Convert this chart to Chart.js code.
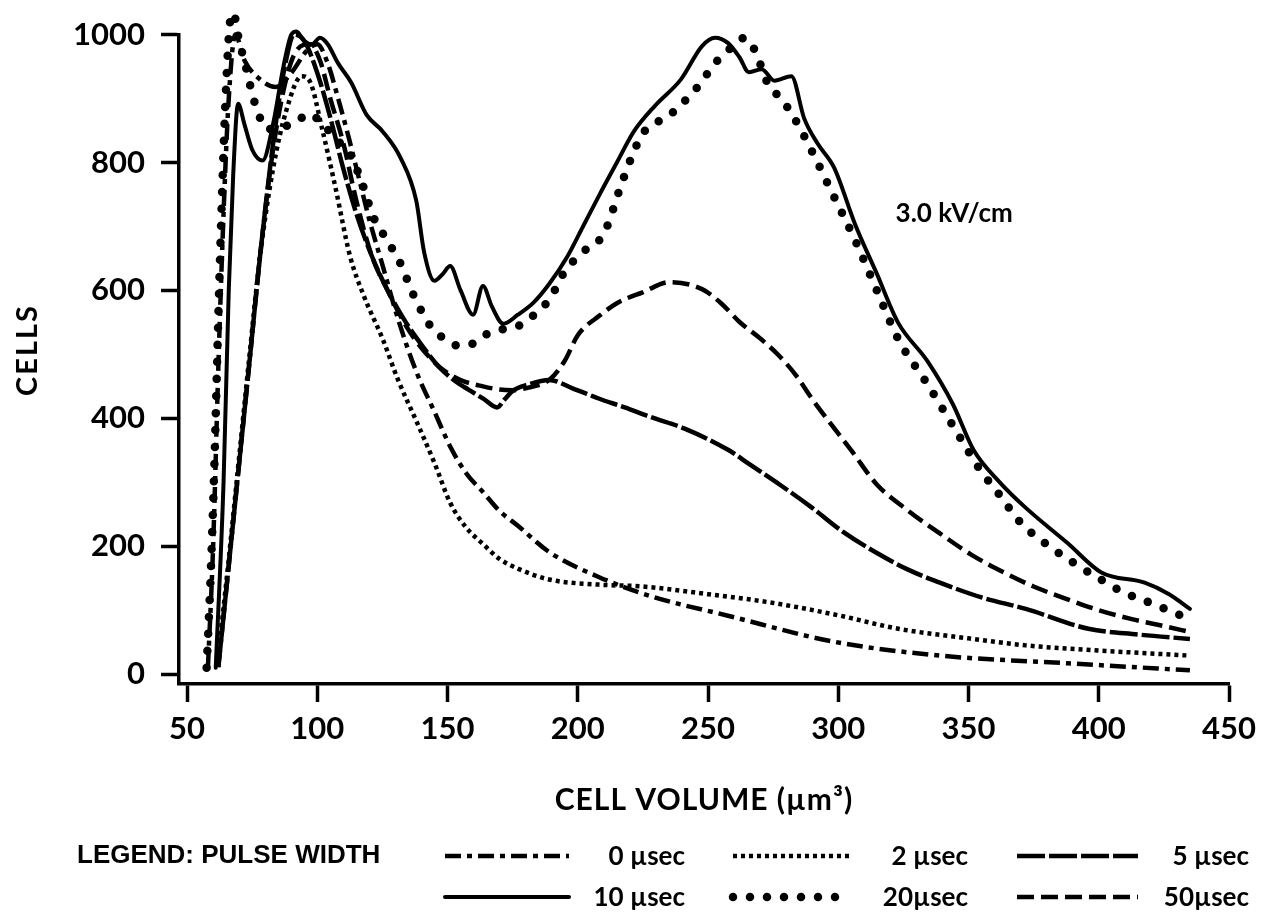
<!DOCTYPE html>
<html>
<head>
<meta charset="utf-8">
<script src="https://cdn.jsdelivr.net/npm/chart.js@4.4.1/dist/chart.umd.min.js"></script>
<style>
  html, body { margin: 0; padding: 0; background: #fff; }
  #wrap { width: 1266px; height: 915px; position: relative; }
</style>
</head>
<body>
<div id="wrap"><canvas id="volume-chart"></canvas></div>
<script>
// Cell volume distributions at 3.0 kV/cm, one curve per pulse width

const xTicks = [50, 100, 150, 200, 250, 300, 350, 400, 450];
const yTicks = [0, 200, 400, 600, 800, 1000];

const pulseLabels = ['0 µsec', '2 µsec', '5 µsec', '10 µsec', '20µsec', '50µsec'];

// 0 µsec
const vol0   = [58, 60, 62, 64, 66, 68.5, 72, 78, 84, 90, 96, 100, 104, 108, 112, 116, 120, 125, 131, 138, 145, 151, 157, 164, 170, 177, 189, 208, 228, 258, 298, 339, 388, 435];
const cells0 = [10, 200, 480, 720, 900, 1000, 960, 930, 918, 940, 975, 985, 955, 900, 840, 775, 710, 640, 555, 473, 410, 356, 315, 283, 255, 232, 191, 152, 122, 91, 51, 29, 17, 6];

// 2 µsec
const vol2   = [61.5, 66, 70, 74, 78, 83, 88, 94, 97, 102, 107, 112.6, 118, 125, 131, 138, 145, 151, 157, 164, 170, 177, 189, 208, 225, 250, 274, 300, 323, 350, 372, 400, 435];
const cells2 = [11, 180, 340, 500, 653, 790, 880, 935, 928, 850, 760, 653, 590, 525, 460, 396, 330, 268, 230, 202, 180, 165, 148, 140, 137, 125, 112, 92, 71, 56, 45, 37, 29];

// 5 µsec
const vol5   = [62, 66, 70, 74, 78, 84, 88, 91, 95, 100, 105, 110, 115, 121, 127, 134, 140, 147, 153, 158, 164, 169, 172, 175, 181, 189, 198, 208, 218, 228, 241, 258, 266, 278, 290, 302, 315, 327, 339, 355, 372, 396, 415, 435];
const cells5 = [11, 170, 330, 490, 653, 860, 960, 1000, 990, 940, 870, 790, 720, 653, 600, 550, 515, 479, 458, 445, 430, 417, 430, 443, 453, 460, 447, 431, 417, 402, 384, 350, 328, 295, 260, 222, 189, 163, 143, 120, 102, 71, 62, 55];

// 10 µsec
const vol10   = [61, 64, 66, 67.7, 69.6, 72, 75, 79, 83, 87, 90, 92, 95, 98, 101, 104, 108, 113, 119, 125, 132, 138, 141, 145, 148, 151, 155, 159.8, 163.6, 167, 171.4, 177, 183, 189, 196, 202, 208.5, 215, 221.6, 229.7, 239.6, 247.7, 252.7, 257.6, 262, 265.7, 270.6, 275.5, 282, 286.9, 292, 298.4, 306.4, 314.7, 322.9, 334.3, 344, 352, 362, 372, 388, 401, 417.6, 427, 435];
const cells10 = [10, 300, 600, 780, 892, 860, 820, 803, 860, 950, 1000, 1005, 990, 985, 995, 985, 955, 925, 874, 849, 807, 740, 660, 615, 625, 638, 600, 562, 607, 575, 548, 562, 581, 610, 653, 700, 751, 800, 849, 889, 930, 982, 995, 987, 965, 941, 946, 928, 935, 869, 830, 792, 704, 627, 550, 489, 422, 350, 300, 260, 205, 159, 143, 125, 102];

// 20 µsec
const vol20   = [57.5, 59, 60.5, 62, 63.5, 65, 66.5, 67.7, 70, 72.3, 75.3, 77.3, 80.7, 85, 91, 97, 102, 107.6, 112.7, 117, 121.5, 125, 131.8, 136.8, 143.3, 147.8, 154, 159.8, 165.6, 172, 179, 184, 189.3, 195, 202, 210, 217, 221.6, 225, 235.5, 245.3, 253.5, 259, 264, 268, 273, 278, 282, 288.6, 297.6, 306.4, 314.7, 323, 334.3, 346.6, 354, 362, 370, 381, 391.5, 400, 409, 422, 435];
const cells20 = [10, 150, 330, 560, 760, 920, 1020, 1034, 990, 954, 903, 877, 852, 855, 861, 876, 860, 835, 812, 770, 715, 690, 643, 594, 545, 527, 514, 517, 533, 540, 548, 565, 587, 630, 660, 689, 769, 818, 846, 875, 915, 959, 980, 995, 975, 923, 900, 877, 828, 753, 679, 601, 524, 453, 371, 322, 280, 237, 200, 171, 150, 129, 108, 86];

// 50 µsec
const vol50   = [62, 66, 70, 74, 78, 83, 88, 92, 97, 101, 105, 110, 115, 121, 127, 134, 140, 147, 155, 163.6, 170, 175, 181, 189.3, 195, 200, 208.5, 215, 224.9, 235.4, 247.7, 255, 262, 270, 277, 284, 290, 297, 305, 314.7, 327, 339, 351, 363.6, 375, 388, 400, 412.7, 424, 435];
const cells50 = [11, 170, 330, 490, 653, 820, 930, 975, 985, 960, 900, 830, 740, 653, 600, 545, 510, 480, 460, 450, 445, 444, 448, 461, 490, 530, 561, 580, 597, 613, 602, 580, 551, 525, 499, 466, 430, 392, 350, 297, 255, 220, 187, 159, 137, 117, 100, 86, 76, 66];

const seriesX = [vol0, vol2, vol5, vol10, vol20, vol50];
const seriesY = [cells0, cells2, cells5, cells10, cells20, cells50];

// line pattern for each pulse width, same order as pulseLabels
const STYLES = [
    { dash: [16, 6, 5, 6], width: 4.5, cap: 'butt' },
    { dash: [4, 4], width: 4.5, cap: 'butt' },
    { dash: [28, 4], width: 4.5, cap: 'butt' },
    { dash: [], width: 4, cap: 'round' },
    { dash: [0, 17], width: 8.5, cap: 'round' },
    { dash: [17, 7], width: 4.5, cap: 'butt' },
];

const INK = '#000';
const TICK_FONT = { family: 'Lato', size: 31, weight: 'bold' };

const datasets = pulseLabels.map((label, i) => ({
    label,
    data: seriesX[i].map((x, j) => ({ x, y: seriesY[i][j] })),
    borderColor: INK,
    borderWidth: STYLES[i].width,
    borderDash: STYLES[i].dash,
    borderCapStyle: STYLES[i].cap,
    borderJoinStyle: 'round',
    pointRadius: 0,
    cubicInterpolationMode: 'monotone',
    clip: false,
    fill: false,
}));

// titles, field strength note and the pulse width key
const textAndKey = {
    id: 'textAndKey',
    afterDraw(chart) {
        const ctx = chart.ctx;
        const xs = chart.scales.x, ys = chart.scales.y;
        ctx.save();
        ctx.fillStyle = INK;
        ctx.strokeStyle = INK;

        ctx.font = 'bold 30px Lato';
        ctx.textAlign = 'center';
        ctx.textBaseline = 'middle';
        ctx.letterSpacing = '1px';
        ctx.fillText('CELL VOLUME (µm³)', (chart.chartArea.left + chart.chartArea.right) / 2, 800);

        ctx.save();
        ctx.translate(28, 350);
        ctx.rotate(-Math.PI / 2);
        ctx.font = 'bold 29px Lato';
        ctx.letterSpacing = '2px';
        ctx.fillText('CELLS', 0, 0);
        ctx.restore();

        ctx.letterSpacing = '0px';
        ctx.font = 'bold 26px Lato';
        ctx.textAlign = 'left';
        ctx.fillText('3.0 kV/cm', xs.getPixelForValue(322), ys.getPixelForValue(720));

        ctx.font = 'bold 26px "Liberation Sans Narrow", "Liberation Sans", sans-serif';
        ctx.fillText('LEGEND: PULSE WIDTH', 77, 856);

        const cols = [[445, 569, 685], [733, 851, 968], [1017, 1138, 1249]];
        const rows = [856, 897];
        ctx.font = 'bold 26px Lato';
        ctx.textAlign = 'right';
        pulseLabels.forEach((label, i) => {
            const [x0, x1, tx] = cols[i % 3];
            const y = rows[Math.floor(i / 3)];
            const st = STYLES[i];
            ctx.beginPath();
            ctx.setLineDash(st.dash);
            ctx.lineCap = st.cap;
            ctx.lineWidth = st.width;
            ctx.moveTo(x0, y);
            ctx.lineTo(x1, y);
            ctx.stroke();
            ctx.setLineDash([]);
            ctx.fillText(label, tx, y + 1);
        });
        ctx.restore();
    },
};

const axisStyle = {
    border: { display: true, color: INK, width: 3.5 },
    grid: { display: true, drawOnChartArea: false, drawTicks: true, tickLength: 18, tickColor: INK, tickWidth: 3.5 },
};

new Chart(document.getElementById('volume-chart'), {
    type: 'line',
    data: { datasets },
    options: {
        responsive: true,
        maintainAspectRatio: false,
        animation: false,
        layout: { padding: { left: 0, top: 25, right: 37, bottom: 0 } },
        plugins: { legend: { display: false }, tooltip: { enabled: false } },
        scales: {
            x: {
                type: 'linear',
                min: 46.9,
                max: 450,
                ...axisStyle,
                ticks: { color: INK, font: TICK_FONT, padding: 8, includeBounds: false, maxRotation: 0, callback: v => String(v) },
                afterBuildTicks: s => { s.ticks = xTicks.map(v => ({ value: v })); },
                afterFit: s => { s.height = 231; },
            },
            y: {
                type: 'linear',
                min: -15.4,
                max: 1000,
                ...axisStyle,
                ticks: { color: INK, font: TICK_FONT, padding: 16, includeBounds: false, callback: v => String(v) },
                afterBuildTicks: s => { s.ticks = yTicks.map(v => ({ value: v })); },
                afterFit: s => { s.width = 179; },
            },
        },
    },
    plugins: [textAndKey],
});
</script>
</body>
</html>
